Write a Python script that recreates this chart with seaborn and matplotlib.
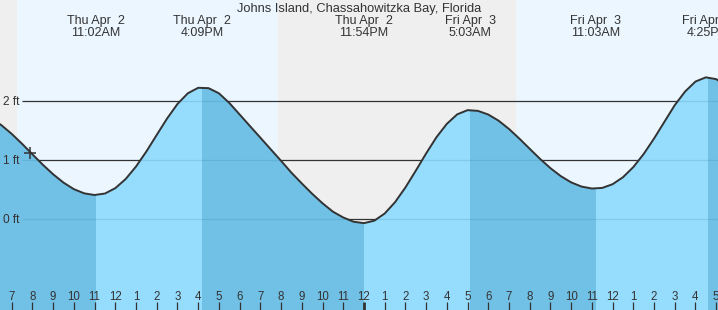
import numpy as np
import matplotlib
matplotlib.use("Agg")
import matplotlib.pyplot as plt
import matplotlib.transforms as mtransforms
from matplotlib.patches import Polygon
import seaborn as sns

# ---------------- data (hours counted from Thu Apr 2, 00:00) ----------------
title = "Johns Island, Chassahowitzka Bay, Florida"

curve_hours = np.arange(6.0, 41.51, 0.5)
curve_ft = [1.715, 1.596, 1.448, 1.280, 1.102, 0.926, 0.763, 0.622, 0.511, 0.440,
            0.412, 0.437, 0.528, 0.683, 0.895, 1.150, 1.431, 1.709, 1.955, 2.136,
            2.229, 2.223, 2.136, 1.973, 1.777, 1.580, 1.384, 1.187, 0.991, 0.790,
            0.608, 0.433, 0.272, 0.130, 0.031, -0.041, -0.065, -0.023, 0.098, 0.290,
            0.539, 0.823, 1.116, 1.392, 1.618, 1.779, 1.850, 1.838, 1.776, 1.671,
            1.531, 1.368, 1.195, 1.024, 0.867, 0.732, 0.626, 0.555, 0.522, 0.532,
            0.595, 0.713, 0.885, 1.107, 1.369, 1.652, 1.935, 2.166, 2.335, 2.406,
            2.376, 2.257]

event_hours = [11.07, 16.2, 23.98, 29.13, 35.18, 40.6]
event_ft = [0.41, 2.24, -0.06, 1.85, 0.52, 2.41]
event_day = ["Thu Apr  2", "Thu Apr  2", "Thu Apr  2", "Fri Apr  3", "Fri Apr  3", "Fri Apr  3"]
event_time = ["11:02AM", "4:09PM", "11:54PM", "5:03AM", "11:03AM", "4:25PM"]

sunrise_hours = [7.26, 31.34]
sunset_hours = [19.84, 43.84]

tick_hours = list(range(7, 42))
tick_labels = ["7", "8", "9", "10", "11", "12", "1", "2", "3", "4", "5", "6", "7", "8",
               "9", "10", "11", "12", "1", "2", "3", "4", "5", "6", "7", "8", "9", "10",
               "11", "12", "1", "2", "3", "4", "5"]
midnight_hour = 24

grid_ft = [0, 1, 2]
grid_labels = ["0 ft", "1 ft", "2 ft"]

now_hour = 7.88
now_ft = 1.13

# ---------------- styling ----------------
sns.set_theme(style="white")
plt.rcParams["font.family"] = ["Liberation Sans", "DejaVu Sans"]

W, H = 718, 310
X0, X1 = 6.435, 41.087
Y0, Y1 = -1.537, 3.717
TXT = "#333333"
NIGHT = "#efefef"
DAY = "#ebf6ff"
FALL = "#71c0e5"
RISE = "#96dcfd"

fig = plt.figure(figsize=(W / 100, H / 100), dpi=100, facecolor=NIGHT)
ax = fig.add_axes([0, 0, 1, 1])
ax.set_xlim(X0, X1)
ax.set_ylim(Y0, Y1)
ax.set_axis_off()

trans = mtransforms.blended_transform_factory(ax.transData, ax.transAxes)
trans_y = mtransforms.blended_transform_factory(ax.transAxes, ax.transData)

# background: night / day
ax.axvspan(X0 - 5, X1 + 5, color=NIGHT, lw=0, zorder=0)
for a, b in zip(sunrise_hours, sunset_hours):
    ax.axvspan(a, b, color=DAY, lw=0, zorder=0.1)

# level lines
line_start = 7.5
ax.hlines(grid_ft, line_start, X1 + 1, color=TXT, lw=0.9, zorder=1)

# region under the curve used as clip
verts = [(h, v) for h, v in zip(curve_hours, curve_ft)]
verts += [(curve_hours[-1], Y0 - 5), (curve_hours[0], Y0 - 5)]
under = Polygon(verts, closed=True, transform=ax.transData,
                facecolor="none", edgecolor="none")
ax.add_patch(under)

bounds = [curve_hours[0]] + event_hours + [curve_hours[-1]]
for i in range(len(bounds) - 1):
    a, b = bounds[i], bounds[i + 1]
    if i < len(event_hours):
        end_level = event_ft[i]
        other = event_ft[i - 1] if i > 0 else event_ft[i + 1]
        falling = end_level < other
    else:
        falling = event_ft[-1] > event_ft[-2]
    span = ax.axvspan(a, b, color=FALL if falling else RISE, lw=0, zorder=2)
    span.set_clip_path(under)

faint = ax.hlines(grid_ft, line_start, X1 + 1, color="#1d6a93", alpha=0.16, lw=0.9, zorder=3)
faint.set_clip_path(under)

# tide curve
sns.lineplot(x=curve_hours, y=curve_ft, ax=ax, color=TXT, lw=1.4, zorder=5,
             sort=False, estimator=None)

# current time marker
ax.plot([now_hour], [now_ft], marker="+", ms=8, mew=1.1, color=TXT, zorder=6, ls="none")

# y labels
ylab_tr = mtransforms.offset_copy(trans_y, fig=fig, x=0, y=-4, units="dots")
for v, lab in zip(grid_ft, grid_labels):
    ax.text(3 / W, v, lab, transform=ylab_tr, ha="left", va="baseline",
            fontsize=8.6, color=TXT, zorder=7)

# hour ticks
for h, lab in zip(tick_hours, tick_labels):
    lw = 2.0 if h == midnight_hour else 0.9
    ax.vlines(h, 0, 8.5 / H, transform=trans, color=TXT, lw=lw, zorder=7)
    ax.text(h, (H - 300) / H, lab, transform=trans, ha="center", va="baseline",
            fontsize=8.3, color=TXT, zorder=7)

# title
ax.text(0.5, 1 - 11.7 / H, title, transform=ax.transAxes, ha="center", va="baseline",
        fontsize=9.3, color=TXT, zorder=7)

# event labels
for h, d, t in zip(event_hours, event_day, event_time):
    ax.text(h, 1 - 24 / H, d, transform=trans, ha="center", va="baseline",
            fontsize=9, color=TXT, zorder=7)
    ax.text(h, 1 - 36.3 / H, t, transform=trans, ha="center", va="baseline",
            fontsize=9, color=TXT, zorder=7)

fig.savefig("out.png", dpi=100, facecolor=NIGHT)
